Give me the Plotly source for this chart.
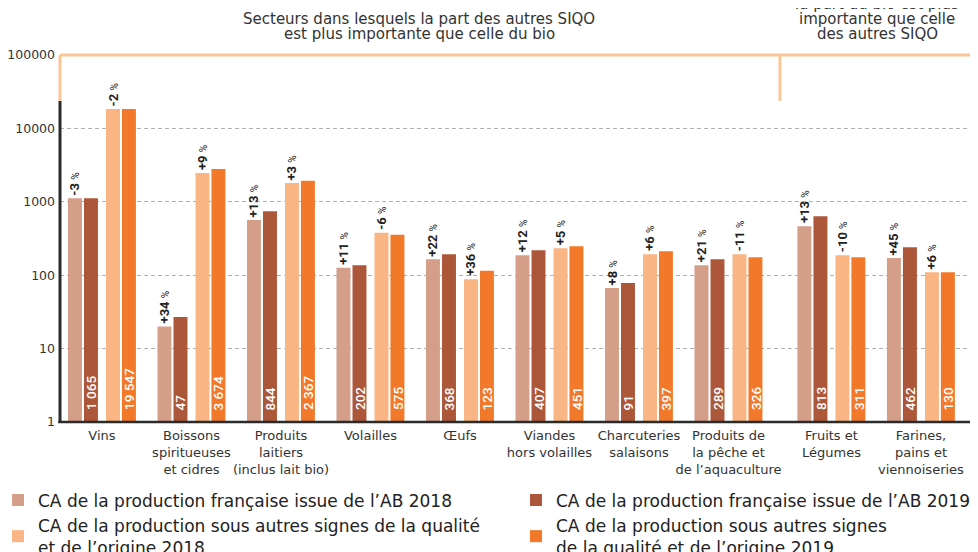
import math
import plotly.graph_objects as go

categories = ["Vins", "Boissons<br>spiritueuses<br>et cidres", "Produits<br>laitiers<br>(inclus lait bio)",
              "Volailles", "Œufs", "Viandes<br>hors volailles", "Charcuteries<br>salaisons",
              "Produits de<br>la pêche et<br>de l’aquaculture", "Fruits et<br>Légumes",
              "Farines,<br>pains et<br>viennoiseries"]

# bar heights
ab_2018 = [1120, 20, 563, 126, 165, 187, 67, 137, 466, 171]
ab_2019 = [1120, 27, 746, 137, 193, 219, 78, 165, 638, 241]
siqo_2018 = [18400, 2460, 1800, 378, 88, 233, 193, 193, 187, 110]
siqo_2019 = [18400, 2790, 1935, 355, 115, 248, 212, 176, 176, 110]

# labels printed on the chart
lab_ab_2019 = ["1 065", "47", "844", "202", "368", "407", "91", "289", "813", "462"]
lab_siqo_2019 = ["19 547", "3 674", "2 367", "575", "123", "451", "397", "326", "311", "130"]
pct_ab = ["-3", "+34", "+13", "+11", "+22", "+12", "+8", "+21", "+13", "+45"]
pct_siqo = ["-2", "+9", "+3", "-6", "+36", "+5", "+6", "-11", "-10", "+6"]

names = ["CA de la production française issue de l’AB 2018",
         "CA de la production française issue de l’AB 2019",
         "CA de la production sous autres signes de la qualité<br>et de l’origine 2018",
         "CA de la production sous autres signes<br>de la qualité et de l’origine 2019"]
colors = ["#D59E88", "#AD573A", "#F9B584", "#F2792A"]

FONT = "DejaVu Sans"
NUMFONT = "Roboto"
pos = [i + (0.15 if i >= 8 else 0) for i in range(len(categories))]
W = 0.156
offsets = [-0.38, -0.201, 0.045, 0.223]
series = [ab_2018, ab_2019, siqo_2018, siqo_2019]
legends = ["legend", "legend2", "legend", "legend2"]

fig = go.Figure()
for k in range(4):
    fig.add_trace(go.Bar(x=pos, y=series[k], name=names[k], width=W, offset=offsets[k],
                         legend=legends[k],
                         marker=dict(color=colors[k], line=dict(width=0))))

anns = []
for i, p in enumerate(pos):
    for k, pct in ((0, pct_ab[i]), (2, pct_siqo[i])):
        anns.append(dict(x=p + offsets[k] + W / 2, y=math.log10(series[k][i]), xref="x", yref="y",
                         text=f"<b>{pct}</b> <span style='font-size:10px'>%</span>",
                         textangle=-90, showarrow=False, yanchor="bottom", yshift=1,
                         font=dict(family=NUMFONT, size=13, color="#222")))
    for k, lab in ((1, lab_ab_2019[i]), (3, lab_siqo_2019[i])):
        anns.append(dict(x=p + offsets[k] + W / 2, y=0, xref="x", yref="y", text=lab,
                         textangle=-90, showarrow=False, yanchor="bottom", yshift=10,
                         font=dict(family=NUMFONT, size=13.5, color="white", weight=500)))

split = (pos[7] + pos[8]) / 2
# header texts, one line each (page pixel positions, plot area spans x 60-975, y 55-421.6)
top_txt = [(419, 18, "Secteurs dans lesquels la part des autres SIQO"),
           (419, 33, "est plus importante que celle du bio"),
           (877, -12, "Secteurs dans lesquels"),
           (877, 3, "la part du bio est plus"),
           (877, 18, "importante que celle"),
           (877, 33, "des autres SIQO")]
for xp, yp, t in top_txt:
    anns.append(dict(x=(xp - 60) / 915, y=(421.6 - yp - 1) / 366.6, xref="x domain", yref="y domain",
                     text=t, showarrow=False, xanchor="center", yanchor="middle",
                     font=dict(family=FONT, size=15, color="#333")))

orange = "#FAC597"
dark = "#2b2b2b"
shapes = [
    dict(type="line", xref="x domain", yref="y domain", x0=0, x1=1, y0=1, y1=1,
         line=dict(color=orange, width=3)),
    dict(type="line", xref="x domain", yref="y domain", x0=0, x1=0, y0=0.875, y1=1,
         line=dict(color=orange, width=3)),
    dict(type="line", xref="x", yref="y domain", x0=split, x1=split, y0=0.875, y1=1,
         line=dict(color=orange, width=3)),
    dict(type="line", xref="x domain", yref="y domain", x0=1, x1=1, y0=0.875, y1=1,
         line=dict(color=orange, width=3)),
    dict(type="line", xref="x domain", yref="y domain", x0=0, x1=0, y0=0, y1=0.875,
         line=dict(color=dark, width=3)),
    dict(type="line", xref="x domain", yref="y domain", x0=-0.002, x1=1, y0=0, y1=0,
         line=dict(color=dark, width=2.5)),
]

# legends in paper coordinates: plot area is 915 x 366.6 px, left at 52, bottom at 413.6
leg_common = dict(orientation="v", xanchor="left", yanchor="top", traceorder="normal",
                  itemclick=False, bgcolor="rgba(0,0,0,0)",
                  font=dict(family=FONT, size=17, color="#222"))
leg_top = (413.6 - 474) / 366.6

fig.update_layout(
    width=978, height=552,
    margin=dict(l=52, r=11, t=47, b=138.4, autoexpand=False),
    paper_bgcolor="white", plot_bgcolor="white",
    barmode="overlay",
    font=dict(family=FONT, color="#333"),
    annotations=anns, shapes=shapes,
    showlegend=True,
    legend=dict(x=(-10 - 52) / 915, y=leg_top, **leg_common),
    legend2=dict(x=(508 - 52) / 915, y=leg_top, **leg_common),
    xaxis=dict(range=[-0.469, 9.754], tickvals=pos, ticktext=categories, showgrid=False,
               zeroline=False, showline=False, ticks="", automargin=False, tickangle=0,
               tickfont=dict(family=FONT, size=13, color="#333"), ticklabelstandoff=4),
    yaxis=dict(type="log", range=[0, 5], tickvals=[1, 10, 100, 1000, 10000, 100000],
               ticktext=["1", "10", "100", "1000", "10000", "100000"], automargin=False,
               showgrid=True, gridcolor="#b0b0b0", griddash="4px,3px", gridwidth=1,
               zeroline=False, showline=False, ticks="", ticklabelstandoff=4,
               tickfont=dict(family=FONT, size=12.5, color="#333")),
)

fig.write_html("out.html")
